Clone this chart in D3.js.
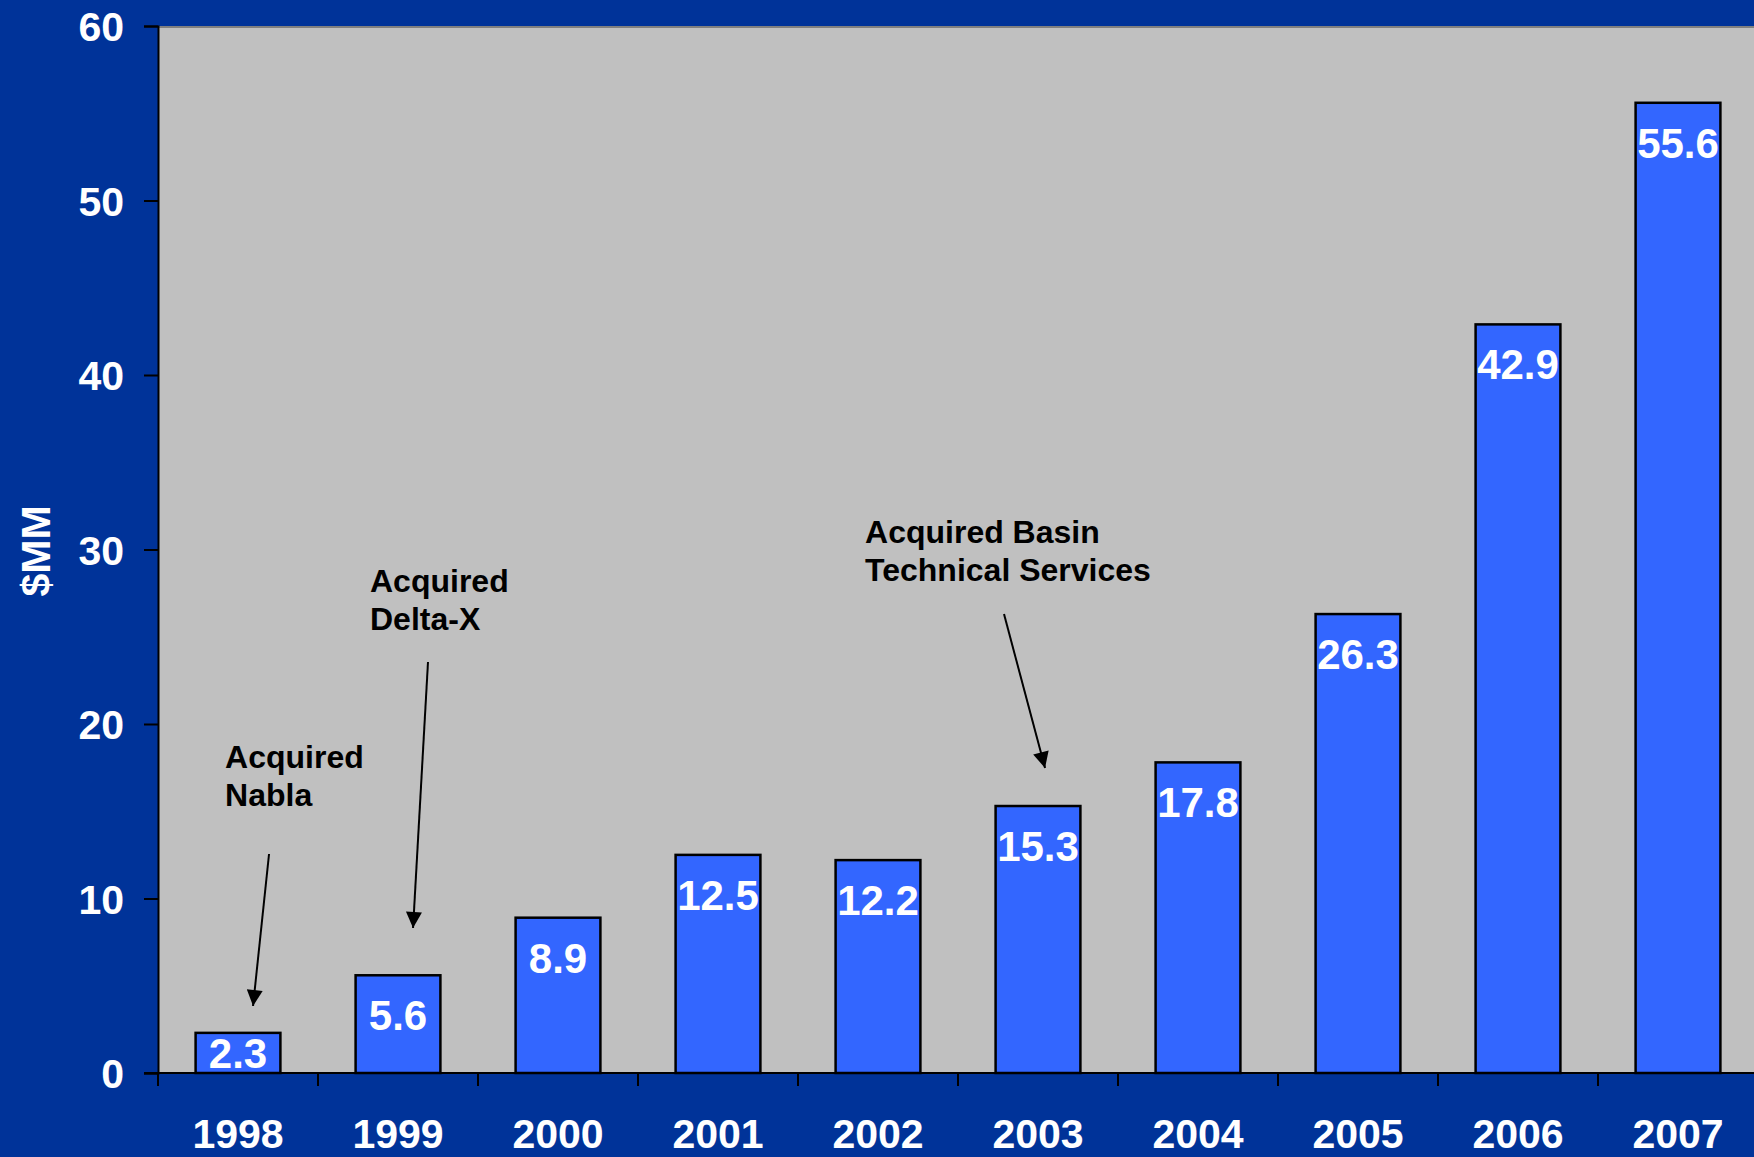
<!DOCTYPE html>
<html>
<head>
<meta charset="utf-8">
<script src="https://cdn.jsdelivr.net/npm/d3@7"></script>
<style>
  html, body { margin: 0; padding: 0; background: #003399; }
  svg { display: block; }
  text { font-family: "Liberation Sans", Arial, Helvetica, sans-serif; font-weight: bold; }
</style>
</head>
<body>
<svg id="chart" width="1754" height="1157"></svg>
<script>
// ---- data ----
const years = ["1998", "1999", "2000", "2001", "2002", "2003", "2004", "2005", "2006", "2007"];
const revenue = [2.3, 5.6, 8.9, 12.5, 12.2, 15.3, 17.8, 26.3, 42.9, 55.6];
const yTicks = [0, 10, 20, 30, 40, 50, 60];
const yTitle = "$MM";
// annotations: text lines, text anchor and arrow tail/tip in data space (category index, value)
const annoLines = [["Acquired", "Nabla"], ["Acquired", "Delta-X"], ["Acquired Basin", "Technical Services"]];
const annoText = [[0.419, 17.48], [1.325, 27.56], [4.419, 30.37]];
const annoTail = [[0.694, 12.55], [1.6875, 23.55], [5.2875, 26.3]];
const annoTip = [[0.594, 3.84], [1.594, 8.31], [5.544, 17.48]];

(function () {
// ---- layout ----
const svg = d3.select("#chart");
const mLeft = 158, mTop = 26, mBottom = 1073, mRight = 1758;

const x = d3.scaleBand().domain(years).range([mLeft, mRight]).paddingInner(0.47).paddingOuter(0.235);
const xi = d3.scaleLinear().domain([0, years.length]).range([mLeft, mRight]);
const y = d3.scaleLinear().domain([0, 60]).range([mBottom, mTop]);

// background
svg.append("rect").attr("width", 1754).attr("height", 1157).attr("fill", "#003399");
// plot area
svg.append("rect").attr("x", mLeft).attr("y", mTop).attr("width", mRight - mLeft).attr("height", mBottom - mTop)
  .attr("fill", "#C0C0C0");
svg.append("line").attr("x1", mLeft).attr("x2", mRight).attr("y1", mTop + 1).attr("y2", mTop + 1)
  .attr("stroke", "#808080").attr("stroke-width", 2);

// bars
svg.selectAll("rect.bar").data(revenue).join("rect").attr("class", "bar")
  .attr("x", (d, i) => x(years[i]))
  .attr("y", d => y(d))
  .attr("width", x.bandwidth())
  .attr("height", d => y(0) - y(d))
  .attr("fill", "#3366FF").attr("stroke", "#000").attr("stroke-width", 2.5);

// value labels
svg.selectAll("text.val").data(revenue).join("text").attr("class", "val")
  .attr("x", (d, i) => x(years[i]) + x.bandwidth() / 2)
  .attr("y", d => {
    const h = y(0) - y(d);
    return h < 80 ? y(d) + h / 2 + 15 : y(d) + 55;
  })
  .attr("text-anchor", "middle").attr("fill", "#fff").attr("font-size", 42)
  .text(d => d.toFixed(1));

// y axis
const yAxis = svg.append("g").attr("transform", `translate(${mLeft},0)`)
  .call(d3.axisLeft(y).tickValues(yTicks).tickSize(14).tickPadding(20).tickFormat(d3.format("d")));
yAxis.select(".domain").attr("stroke", "#000").attr("stroke-width", 2);
yAxis.selectAll(".tick line").attr("stroke", "#000").attr("stroke-width", 2);
yAxis.selectAll(".tick text").attr("fill", "#fff").attr("font-size", 41)
  .attr("font-family", "'Liberation Sans', Arial, sans-serif").attr("font-weight", "bold").attr("dy", "0.36em");

// x axis: line with ticks at category boundaries
svg.append("line").attr("x1", mLeft - 14).attr("x2", mRight).attr("y1", mBottom).attr("y2", mBottom)
  .attr("stroke", "#000").attr("stroke-width", 2);
svg.selectAll("line.xt").data(d3.range(years.length + 1)).join("line").attr("class", "xt")
  .attr("x1", d => xi(d)).attr("x2", d => xi(d)).attr("y1", mBottom).attr("y2", mBottom + 13)
  .attr("stroke", "#000").attr("stroke-width", 2);
svg.selectAll("text.xl").data(years).join("text").attr("class", "xl")
  .attr("x", d => x(d) + x.bandwidth() / 2).attr("y", 1148)
  .attr("text-anchor", "middle").attr("fill", "#fff").attr("font-size", 41)
  .text(d => d);

// y title
svg.append("text").attr("transform", "translate(50,551) rotate(-90)")
  .attr("text-anchor", "middle").attr("fill", "#fff").attr("font-size", 41).text(yTitle);

// arrow marker
svg.append("defs").append("marker").attr("id", "arr")
  .attr("viewBox", "0 0 10 10").attr("refX", 10).attr("refY", 5)
  .attr("markerUnits", "userSpaceOnUse").attr("markerWidth", 17).attr("markerHeight", 16)
  .attr("orient", "auto")
  .append("path").attr("d", "M0,0 L10,5 L0,10 Z").attr("fill", "#000");

// annotations
annoLines.forEach((lines, k) => {
  const t = svg.append("text").attr("fill", "#000").attr("font-size", 32);
  lines.forEach((ln, j) => {
    t.append("tspan").attr("x", xi(annoText[k][0])).attr("y", y(annoText[k][1]) + j * 38).text(ln);
  });
  svg.append("line")
    .attr("x1", xi(annoTail[k][0])).attr("y1", y(annoTail[k][1]))
    .attr("x2", xi(annoTip[k][0])).attr("y2", y(annoTip[k][1]))
    .attr("stroke", "#000").attr("stroke-width", 2).attr("marker-end", "url(#arr)");
});
})();
</script>
</body>
</html>
